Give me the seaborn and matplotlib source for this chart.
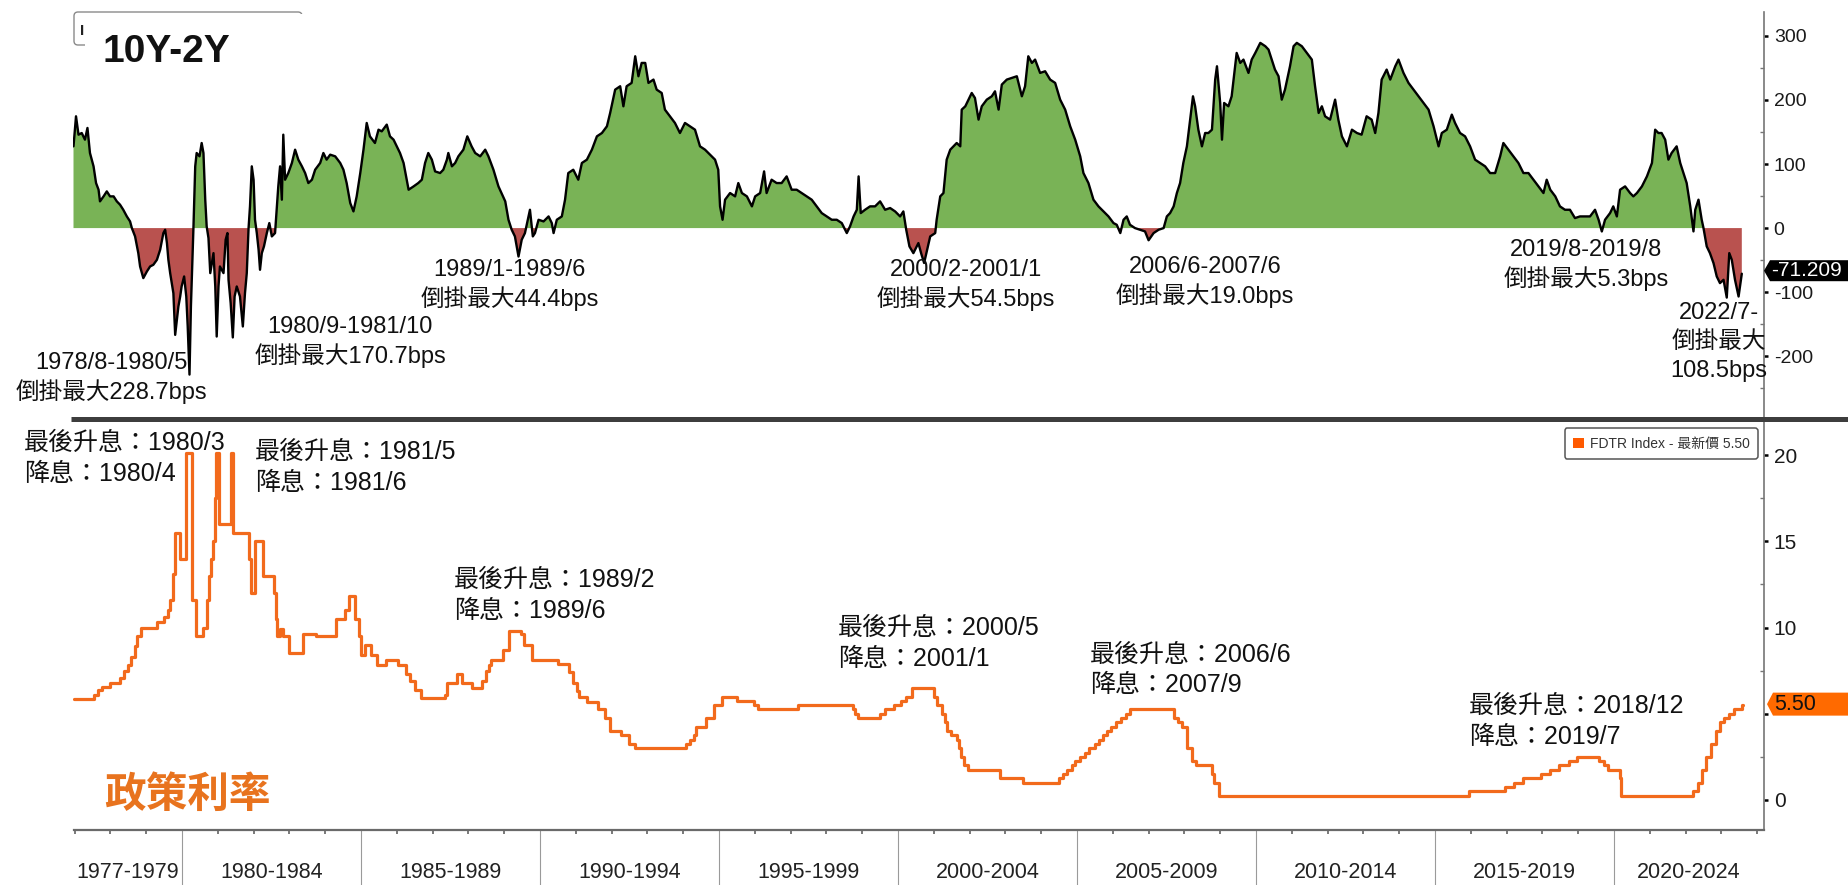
import matplotlib
matplotlib.use("Agg")
import numpy as np
import pandas as pd
import matplotlib.pyplot as plt
from matplotlib.path import Path
from matplotlib.patches import FancyBboxPatch, Patch, Rectangle
from matplotlib.lines import Line2D
from matplotlib.transforms import IdentityTransform
from matplotlib.font_manager import FontProperties, fontManager
import seaborn as sns

# ---------------- 10Y-2Y Treasury spread (bps) ----------------
spread_dates = [
    1976.97, 1977.04, 1977.11, 1977.20, 1977.29, 1977.36, 1977.43, 1977.53, 1977.60, 1977.67,
    1977.71, 1977.81, 1977.90, 1977.99, 1978.09, 1978.18, 1978.27, 1978.36, 1978.46, 1978.55,
    1978.60, 1978.69, 1978.78, 1978.83, 1978.92, 1979.02, 1979.11, 1979.20, 1979.30, 1979.39,
    1979.48, 1979.53, 1979.58, 1979.62, 1979.67, 1979.76, 1979.81, 1979.90, 1979.95, 1979.99,
    1980.06, 1980.12, 1980.16, 1980.21, 1980.25, 1980.32, 1980.37, 1980.41, 1980.49, 1980.55,
    1980.60, 1980.65, 1980.69, 1980.74, 1980.79, 1980.88, 1980.93, 1980.97, 1981.02, 1981.06,
    1981.16, 1981.22, 1981.27, 1981.30, 1981.36, 1981.42, 1981.47, 1981.53, 1981.62, 1981.70,
    1981.76, 1981.81, 1981.86, 1981.90, 1981.95, 1982.00, 1982.04, 1982.09, 1982.14, 1982.18,
    1982.23, 1982.29, 1982.37, 1982.44, 1982.51, 1982.60, 1982.65, 1982.69, 1982.74, 1982.79,
    1982.83, 1982.88, 1982.97, 1983.07, 1983.16, 1983.25, 1983.35, 1983.44, 1983.53, 1983.63,
    1983.72, 1983.86, 1983.95, 1984.04, 1984.14, 1984.28, 1984.42, 1984.51, 1984.60, 1984.70,
    1984.79, 1984.88, 1984.98, 1985.07, 1985.16, 1985.25, 1985.39, 1985.49, 1985.58, 1985.72,
    1985.81, 1985.91, 1986.00, 1986.09, 1986.19, 1986.33, 1986.47, 1986.60, 1986.70, 1986.79,
    1986.88, 1986.98, 1987.07, 1987.21, 1987.30, 1987.40, 1987.44, 1987.54, 1987.63, 1987.72,
    1987.86, 1987.97, 1988.09, 1988.19, 1988.33, 1988.47, 1988.56, 1988.70, 1988.84, 1989.03,
    1989.12, 1989.21, 1989.30, 1989.40, 1989.49, 1989.58, 1989.72, 1989.80, 1989.86, 1989.96,
    1990.10, 1990.24, 1990.33, 1990.38, 1990.47, 1990.61, 1990.70, 1990.79, 1990.93, 1991.07,
    1991.17, 1991.31, 1991.45, 1991.59, 1991.73, 1991.87, 1991.96, 1992.10, 1992.24, 1992.33,
    1992.42, 1992.56, 1992.66, 1992.75, 1992.84, 1992.94, 1993.03, 1993.17, 1993.26, 1993.40,
    1993.49, 1993.63, 1993.77, 1993.91, 1994.05, 1994.19, 1994.33, 1994.47, 1994.61, 1994.75,
    1994.89, 1994.98, 1995.03, 1995.10, 1995.17, 1995.31, 1995.45, 1995.54, 1995.64, 1995.78,
    1995.92, 1996.01, 1996.15, 1996.26, 1996.33, 1996.47, 1996.61, 1996.75, 1996.89, 1997.03,
    1997.17, 1997.31, 1997.45, 1997.59, 1997.73, 1997.87, 1998.01, 1998.15, 1998.29, 1998.43,
    1998.57, 1998.66, 1998.76, 1998.85, 1998.90, 1998.96, 1999.08, 1999.22, 1999.36, 1999.50,
    1999.64, 1999.78, 1999.92, 2000.06, 2000.15, 2000.23, 2000.32, 2000.43, 2000.57, 2000.65,
    2000.73, 2000.90, 2001.04, 2001.08, 2001.18, 2001.27, 2001.36, 2001.46, 2001.55, 2001.64,
    2001.74, 2001.78, 2001.88, 2001.97, 2002.06, 2002.15, 2002.25, 2002.34, 2002.48, 2002.62,
    2002.71, 2002.81, 2002.90, 2003.04, 2003.18, 2003.32, 2003.46, 2003.55, 2003.64, 2003.74,
    2003.83, 2003.97, 2004.11, 2004.25, 2004.39, 2004.53, 2004.67, 2004.81, 2004.95, 2005.09,
    2005.18, 2005.32, 2005.46, 2005.60, 2005.74, 2005.88, 2006.02, 2006.11, 2006.21, 2006.30,
    2006.39, 2006.48, 2006.62, 2006.76, 2006.90, 2007.00, 2007.14, 2007.28, 2007.42, 2007.51,
    2007.60, 2007.70, 2007.79, 2007.88, 2007.97, 2008.07, 2008.16, 2008.24, 2008.30, 2008.39,
    2008.49, 2008.58, 2008.67, 2008.77, 2008.86, 2008.91, 2009.00, 2009.05, 2009.11, 2009.23,
    2009.32, 2009.46, 2009.56, 2009.65, 2009.79, 2009.88, 2009.98, 2010.12, 2010.26, 2010.35,
    2010.44, 2010.53, 2010.63, 2010.72, 2010.81, 2010.95, 2011.05, 2011.14, 2011.28, 2011.42,
    2011.56, 2011.65, 2011.75, 2011.84, 2011.93, 2012.07, 2012.21, 2012.30, 2012.40, 2012.54,
    2012.68, 2012.82, 2012.95, 2013.09, 2013.23, 2013.33, 2013.42, 2013.51, 2013.65, 2013.75,
    2013.89, 2013.98, 2014.12, 2014.26, 2014.40, 2014.54, 2014.68, 2014.82, 2014.96, 2015.10,
    2015.19, 2015.33, 2015.47, 2015.56, 2015.70, 2015.84, 2015.98, 2016.12, 2016.26, 2016.40,
    2016.54, 2016.68, 2016.82, 2016.91, 2017.05, 2017.19, 2017.33, 2017.47, 2017.61, 2017.75,
    2017.89, 2018.03, 2018.12, 2018.22, 2018.36, 2018.49, 2018.63, 2018.77, 2018.91, 2019.05,
    2019.19, 2019.33, 2019.47, 2019.57, 2019.66, 2019.75, 2019.89, 2019.98, 2020.08, 2020.17,
    2020.31, 2020.45, 2020.54, 2020.64, 2020.78, 2020.92, 2021.06, 2021.15, 2021.24, 2021.33,
    2021.43, 2021.52, 2021.61, 2021.75, 2021.85, 2021.94, 2022.03, 2022.13, 2022.22, 2022.27,
    2022.36, 2022.45, 2022.50, 2022.59, 2022.68, 2022.78, 2022.87, 2022.96, 2023.06, 2023.15,
    2023.22, 2023.29, 2023.38, 2023.48, 2023.57,
]
spread_bps = [
    127.6, 174.5, 145.8, 148.4, 138.0, 156.3, 117.2, 96.4, 70.3, 59.9,
    41.7, 49.5, 57.3, 49.5, 49.5, 41.7, 36.5, 28.6, 18.2, 10.4,
    0.0, -13.0, -39.1, -59.9, -78.1, -67.7, -59.9, -57.3, -49.5, -33.9,
    -7.8, -2.6, -23.4, -49.5, -70.3, -101.6, -166.7, -122.4, -106.8, -91.1,
    -75.5, -106.8, -153.6, -228.7, -122.4, 0.0, 96.4, 117.2, 112.0, 132.8,
    117.2, 44.3, 2.6, -15.6, -70.3, -39.1, -91.1, -169.3, -91.1, -59.9,
    -70.3, -18.2, -7.8, -80.7, -117.2, -170.7, -106.8, -91.1, -106.8, -153.6,
    -101.6, -70.3, 0.0, 33.9, 96.4, 75.5, 13.0, -7.8, -33.9, -65.1,
    -39.1, -28.6, -7.8, 7.8, -13.0, -7.8, 33.9, 65.1, 96.4, 44.3,
    145.8, 75.5, 85.9, 101.6, 122.4, 106.8, 96.4, 85.9, 70.3, 75.5,
    91.1, 101.6, 117.2, 106.8, 114.6, 112.0, 101.6, 91.1, 70.3, 39.1,
    26.0, 49.5, 85.9, 122.4, 164.1, 143.2, 132.8, 153.6, 151.0, 161.5,
    143.2, 138.0, 127.6, 117.2, 101.6, 59.9, 65.1, 70.3, 75.5, 101.6,
    117.2, 106.8, 88.5, 85.9, 91.1, 106.8, 117.2, 96.4, 101.6, 112.0,
    122.4, 143.2, 127.6, 117.2, 112.0, 122.4, 112.0, 91.1, 65.1, 41.7,
    13.0, -2.6, -13.0, -44.4, -18.2, -7.8, 28.6, -13.0, -7.8, 13.0,
    10.4, 18.2, 7.8, -7.8, 13.0, 18.2, 44.3, 85.9, 91.1, 75.5,
    101.6, 106.8, 122.4, 143.2, 148.4, 158.9, 179.7, 216.1, 221.4, 190.1,
    221.4, 226.6, 268.2, 237.0, 257.8, 257.8, 226.6, 231.8, 216.1, 210.9,
    184.9, 174.5, 164.1, 148.4, 164.1, 158.9, 153.6, 127.6, 122.4, 114.6,
    106.8, 91.1, 33.9, 13.0, 44.3, 54.7, 49.5, 70.3, 54.7, 49.5,
    33.9, 49.5, 54.7, 88.5, 54.7, 75.5, 70.3, 70.3, 80.7, 59.9,
    59.9, 54.7, 49.5, 44.3, 33.9, 23.4, 18.2, 13.0, 13.0, 7.8,
    -7.8, 2.6, 18.2, 28.6, 80.7, 23.4, 28.6, 33.9, 33.9, 41.7,
    28.6, 31.3, 26.0, 18.2, 26.0, -2.6, -28.6, -39.1, -23.4, -40.0,
    -54.5, -13.0, -7.8, 13.0, 49.5, 54.7, 106.8, 122.4, 127.6, 132.8,
    127.6, 184.9, 190.1, 200.5, 210.9, 203.1, 169.3, 190.1, 200.5, 205.7,
    213.5, 184.9, 224.0, 231.8, 234.4, 237.0, 205.7, 221.4, 268.2, 257.8,
    263.0, 242.2, 244.8, 231.8, 226.6, 200.5, 184.9, 158.9, 138.0, 112.0,
    85.9, 70.3, 44.3, 33.9, 26.0, 18.2, 7.8, 5.2, -7.8, 13.0,
    18.2, 5.2, 0.0, -2.6, -5.2, -19.0, -7.8, -2.6, 0.0, 18.2,
    23.4, 33.9, 54.7, 70.3, 101.6, 127.6, 169.3, 205.7, 190.1, 153.6,
    127.6, 148.4, 148.4, 153.6, 231.8, 252.6, 195.3, 138.0, 195.3, 190.1,
    205.7, 273.4, 257.8, 263.0, 242.2, 263.0, 273.4, 289.1, 283.9, 278.6,
    263.0, 247.4, 237.0, 200.5, 216.1, 252.6, 283.9, 289.1, 283.9, 273.4,
    263.0, 221.4, 179.7, 190.1, 174.5, 169.3, 200.5, 169.3, 143.2, 127.6,
    153.6, 148.4, 145.8, 174.5, 169.3, 148.4, 179.7, 231.8, 247.4, 231.8,
    252.6, 263.0, 242.2, 226.6, 216.1, 205.7, 195.3, 184.9, 158.9, 127.6,
    148.4, 153.6, 177.1, 164.1, 148.4, 143.2, 127.6, 106.8, 101.6, 96.4,
    85.9, 85.9, 112.0, 132.8, 122.4, 112.0, 101.6, 85.9, 85.9, 75.5,
    65.1, 54.7, 75.5, 59.9, 49.5, 33.9, 28.6, 28.6, 15.6, 18.2,
    18.2, 18.2, 28.6, 13.0, -5.3, 13.0, 23.4, 33.9, 18.2, 59.9,
    65.1, 54.7, 49.5, 54.7, 65.1, 80.7, 101.6, 153.6, 148.4, 148.4,
    138.0, 106.8, 117.2, 127.6, 101.6, 85.9, 70.3, 33.9, -5.2, 28.6,
    44.3, 13.0, 0.0, -28.6, -39.1, -54.7, -75.5, -85.9, -80.7, -108.5,
    -39.1, -49.5, -80.7, -106.8, -71.209,
]

# ---------------- Fed funds target rate (FDTR, %), value from each date on ----------------
fdtr_dates = [
    1976.97, 1977.55, 1977.66, 1977.77, 1977.99, 1978.26, 1978.37, 1978.48, 1978.59, 1978.70,
    1978.75, 1978.86, 1979.29, 1979.51, 1979.62, 1979.67, 1979.75, 1979.815, 1979.946, 1980.109,
    1980.272, 1980.402, 1980.598, 1980.707, 1980.761, 1980.815, 1980.870, 1980.924, 1980.95, 1981.033,
    1981.359, 1981.435, 1981.870, 1981.924, 1982.044, 1982.261, 1982.576, 1982.62, 1982.663, 1982.739,
    1982.826, 1982.989, 1983.370, 1983.750, 1984.294, 1984.566, 1984.674, 1984.837, 1984.946, 1985.000,
    1985.109, 1985.272, 1985.435, 1985.707, 1986.033, 1986.250, 1986.359, 1986.522, 1986.685, 1987.337,
    1987.392, 1987.696, 1987.827, 1988.098, 1988.370, 1988.479, 1988.566, 1988.642, 1988.968, 1989.131,
    1989.457, 1989.566, 1989.783, 1990.490, 1990.816, 1990.925, 1991.033, 1991.088, 1991.305, 1991.63,
    1991.82, 1991.96, 1992.25, 1992.50, 1992.66, 1994.08, 1994.19, 1994.30, 1994.37, 1994.63,
    1994.87, 1995.09, 1995.50, 1995.97, 1996.08, 1997.21, 1998.75, 1998.80, 1998.87, 1999.49,
    1999.64, 1999.88, 2000.09, 2000.22, 2000.38, 2001.01, 2001.08, 2001.22, 2001.30, 2001.38,
    2001.49, 2001.64, 2001.71, 2001.76, 2001.85, 2001.95, 2002.85, 2003.49, 2004.49, 2004.61,
    2004.72, 2004.86, 2004.95, 2005.09, 2005.22, 2005.34, 2005.49, 2005.61, 2005.72, 2005.83,
    2005.95, 2006.08, 2006.24, 2006.36, 2006.49, 2007.71, 2007.83, 2007.94, 2008.06, 2008.08,
    2008.21, 2008.33, 2008.77, 2008.83, 2008.96, 2015.96, 2016.95, 2017.20, 2017.45, 2017.95,
    2018.22, 2018.45, 2018.74, 2018.97, 2019.58, 2019.71, 2019.83, 2020.17, 2020.20, 2022.21,
    2022.34, 2022.46, 2022.57, 2022.72, 2022.84, 2022.95, 2023.08, 2023.22, 2023.34, 2023.57,
    2023.60,
]
fdtr_rates = [
    5.85, 6.08, 6.37, 6.53, 6.76, 7.05, 7.50, 7.85, 8.30, 8.90,
    9.50, 10.00, 10.30, 10.60, 11.00, 11.60, 13.10, 15.50, 14.00, 20.10,
    11.60, 9.50, 10.00, 11.60, 13.00, 14.00, 15.00, 17.50, 20.10, 16.00,
    20.10, 15.50, 14.00, 12.00, 15.00, 13.00, 12.00, 10.50, 9.50, 9.90,
    9.50, 8.50, 9.60, 9.50, 10.50, 11.00, 11.80, 10.50, 9.50, 8.40,
    9.00, 8.40, 7.80, 8.10, 7.80, 7.30, 6.90, 6.40, 5.90, 6.10,
    6.80, 7.30, 6.80, 6.50, 6.90, 7.50, 7.80, 8.10, 8.70, 9.80,
    9.60, 9.00, 8.10, 7.90, 7.40, 6.80, 6.30, 6.00, 5.70, 5.25,
    4.75, 4.00, 3.75, 3.25, 3.00, 3.25, 3.50, 3.75, 4.25, 4.75,
    5.50, 6.00, 5.75, 5.50, 5.25, 5.50, 5.25, 5.00, 4.75, 5.00,
    5.25, 5.50, 5.75, 6.00, 6.50, 6.00, 5.50, 5.00, 4.50, 4.00,
    3.75, 3.50, 3.00, 2.50, 2.00, 1.75, 1.25, 1.00, 1.25, 1.50,
    1.75, 2.00, 2.25, 2.50, 2.75, 3.00, 3.25, 3.50, 3.75, 4.00,
    4.25, 4.50, 4.75, 5.00, 5.25, 4.75, 4.50, 4.25, 3.50, 3.00,
    2.25, 2.00, 1.50, 1.00, 0.25, 0.50, 0.75, 1.00, 1.25, 1.50,
    1.75, 2.00, 2.25, 2.50, 2.25, 2.00, 1.75, 1.25, 0.25, 0.50,
    1.00, 1.75, 2.50, 3.25, 4.00, 4.50, 4.75, 5.00, 5.25, 5.50,
    5.50,
]

# ---------------- Axis labels and annotations ----------------
period_labels = ["1977-1979", "1980-1984", "1985-1989", "1990-1994", "1995-1999",
                 "2000-2004", "2005-2009", "2010-2014", "2015-2019", "2020-2024"]
period_edges = [1980, 1985, 1990, 1995, 2000, 2005, 2010, 2015, 2020]
spread_ticks = [-200, -100, 0, 100, 200, 300]
rate_ticks = [0, 5, 10, 15, 20]

inversion_notes = [
    (1978.03, -210.6, ["1978/8-1980/5", "倒掛最大228.7bps"]),
    (1984.70, -153.7, ["1980/9-1981/10", "倒掛最大170.7bps"]),
    (1989.16, -65.4, ["1989/1-1989/6", "倒掛最大44.4bps"]),
    (2001.90, -65.4, ["2000/2-2001/1", "倒掛最大54.5bps"]),
    (2008.57, -60.3, ["2006/6-2007/6", "倒掛最大19.0bps"]),
    (2019.22, -34.2, ["2019/8-2019/8", "倒掛最大5.3bps"]),
    (2022.93, -132.2, ["2022/7-", "倒掛最大", "108.5bps"]),
]
policy_notes = [
    (1975.59, 20.70, ["最後升息：1980/3", "降息：1980/4"]),
    (1982.04, 20.17, ["最後升息：1981/5", "降息：1981/6"]),
    (1987.60, 12.75, ["最後升息：1989/2", "降息：1989/6"]),
    (1998.33, 9.97, ["最後升息：2000/5", "降息：2001/1"]),
    (2005.37, 8.41, ["最後升息：2006/6", "降息：2007/9"]),
    (2015.95, 5.45, ["最後升息：2018/12", "降息：2019/7"]),
]

GREEN = "#79B356"
RED = "#B9524F"
ORANGE_LINE = "#F26A1C"
ORANGE_TAG = "#FF6A00"
TITLE_ORANGE = "#E8731E"
AXIS_GREY = "#767676"

sns.set_theme(style="white")
plt.rcParams["font.family"] = ["Liberation Sans", "Noto Sans CJK TC"]
plt.rcParams["axes.unicode_minus"] = False

installed = {f.name for f in fontManager.ttflist}
NARROW = next((n for n in ("Liberation Sans Narrow", "DejaVu Sans Condensed") if n in installed), None)
PERIOD_FONT = NARROW or "Liberation Sans"
PERIOD_SIZE = 18 if NARROW else 15.5

W, H = 1849, 885
fig = plt.figure(figsize=(W / 100, H / 100), dpi=100)
fig.patch.set_facecolor("white")


def fx(px):
    return px / W


def fy(py):
    return 1 - py / H


LEFT, RIGHT = 73.5, 1764.0
top_ax = fig.add_axes([fx(LEFT), fy(417), fx(RIGHT) - fx(LEFT), fy(12) - fy(417)])
bot_ax = fig.add_axes([fx(LEFT), fy(830), fx(RIGHT) - fx(LEFT), fy(419) - fy(830)], sharex=top_ax)
for a in (top_ax, bot_ax):
    a.set_facecolor("white")

X_START, X_END = 1976.97, 2024.19

# ---------------- top panel: spread ----------------
spread = pd.DataFrame({"date": spread_dates, "bps": spread_bps})
xs = spread["date"].to_numpy()
ys = spread["bps"].to_numpy()
top_ax.fill_between(xs, ys, 0, where=ys >= 0, interpolate=True, color=GREEN, linewidth=0, zorder=1)
top_ax.fill_between(xs, ys, 0, where=ys <= 0, interpolate=True, color=RED, linewidth=0, zorder=1)
sns.lineplot(data=spread, x="date", y="bps", ax=top_ax, color="black", linewidth=1.7,
             legend=False, zorder=2)

top_ax.set_xlim(X_START, X_END)
top_ax.set_ylim(-294.9, 337.3)
top_ax.set_xlabel("")
top_ax.set_ylabel("")
top_ax.yaxis.tick_right()
top_ax.set_yticks(spread_ticks)
top_ax.set_yticklabels([str(t) for t in spread_ticks])
top_ax.set_yticks([-250, -150, -50, 50, 150, 250], minor=True)
top_ax.tick_params(axis="y", which="major", right=True, direction="out", length=3, width=1.8,
                   color="black", pad=4, labelsize=14, labelcolor="#1a1a1a")
top_ax.tick_params(axis="y", which="minor", right=True, direction="in", length=3, width=1,
                   color=AXIS_GREY)
top_ax.tick_params(axis="x", which="both", bottom=False, top=False, labelbottom=False)
for side, sp in top_ax.spines.items():
    sp.set_visible(side == "right")
top_ax.spines["right"].set_color(AXIS_GREY)
top_ax.spines["right"].set_linewidth(1.2)

for x0, y0, lines in inversion_notes:
    for i, line in enumerate(lines):
        top_ax.annotate(line, xy=(x0, y0), xytext=(0, -i * 20.9), textcoords="offset points",
                        ha="center", va="center", fontsize=17, color="#111111",
                        annotation_clip=False, zorder=4)


def tag_box(tip=7, pad_l=2, pad_r=8, pad_v=1):
    def _box(x0, y0, width, height, mutation_size):
        xl, xr = x0 - pad_l, x0 + width + pad_r
        yb, yt = y0 - pad_v, y0 + height + pad_v
        ym = (yb + yt) / 2
        verts = [(xl - tip, ym), (xl, yt), (xr, yt), (xr, yb), (xl, yb), (xl - tip, ym)]
        codes = [Path.MOVETO] + [Path.LINETO] * 4 + [Path.CLOSEPOLY]
        return Path(verts, codes)
    return _box


top_ax.annotate(f"{spread_bps[-1]:.3f}", xy=(1, spread_bps[-1]), xycoords=("axes fraction", "data"),
                xytext=(7, 3), textcoords="offset pixels", ha="left", va="center",
                fontsize=15, color="white", annotation_clip=False, zorder=10,
                bbox=dict(boxstyle=tag_box(tip=6, pad_l=1, pad_r=10, pad_v=1), fc="black", ec="none"))

# ---------------- bottom panel: policy rate ----------------
fdtr = pd.DataFrame({"date": fdtr_dates, "rate": fdtr_rates})
sns.lineplot(data=fdtr, x="date", y="rate", ax=bot_ax, color=ORANGE_LINE, linewidth=2.3,
             drawstyle="steps-post", legend=False, zorder=2)
bot_ax.set_ylim(-1.74, 22.09)
bot_ax.set_xlim(X_START, X_END)
bot_ax.set_xlabel("")
bot_ax.set_ylabel("")
bot_ax.yaxis.tick_right()
bot_ax.set_yticks(rate_ticks)
# the latest-value tag sits over the "5" level, so that label is left blank
bot_ax.set_yticklabels(["" if t == 5 else str(t) for t in rate_ticks])
bot_ax.set_yticks([2.5, 7.5, 12.5, 17.5], minor=True)
bot_ax.tick_params(axis="y", which="major", right=True, direction="out", length=3, width=1.8,
                   color="black", pad=4, labelsize=15, labelcolor="#1a1a1a")
bot_ax.tick_params(axis="y", which="minor", right=True, direction="in", length=3, width=1,
                   color=AXIS_GREY)

bot_ax.set_xticks(period_edges)
bot_ax.set_xticks(list(range(1977, 2025)), minor=True)
bot_ax.tick_params(axis="x", which="major", bottom=True, direction="out", length=39.6, width=0.8,
                   color="#9a9a9a", labelbottom=False)
bot_ax.tick_params(axis="x", which="minor", bottom=True, direction="out", length=3, width=1.1,
                   color="#555555")
for side, sp in bot_ax.spines.items():
    sp.set_visible(side in ("right", "bottom"))
bot_ax.spines["right"].set_color(AXIS_GREY)
bot_ax.spines["right"].set_linewidth(1.2)
bot_ax.spines["bottom"].set_color("#6a6a6a")
bot_ax.spines["bottom"].set_linewidth(1.6)

edges = [X_START] + period_edges + [X_END]
for lab, a, b in zip(period_labels, edges[:-1], edges[1:]):
    bot_ax.annotate(lab, xy=((a + b) / 2, 0), xycoords=("data", "axes fraction"),
                    xytext=(0, -42), textcoords="offset pixels", ha="center", va="center",
                    fontsize=PERIOD_SIZE, family=PERIOD_FONT, color="#222222", annotation_clip=False)

for x0, y0, lines in policy_notes:
    for i, line in enumerate(lines):
        bot_ax.annotate(line, xy=(x0, y0), xytext=(0, -i * 22), textcoords="offset points",
                        ha="left", va="center", fontsize=18, color="#111111",
                        annotation_clip=False, zorder=4)

bot_ax.annotate(f"{fdtr_rates[-1]:.2f}", xy=(1, fdtr_rates[-1]), xycoords=("axes fraction", "data"),
                xytext=(10, 1), textcoords="offset pixels", ha="left", va="center",
                fontsize=15.5, color="#111111", annotation_clip=False, zorder=10,
                bbox=dict(boxstyle=tag_box(tip=6, pad_l=1, pad_r=60, pad_v=1), fc=ORANGE_TAG, ec="none"))

legend_handle = Patch(facecolor="#FF5A00", edgecolor="none",
                      label=f"FDTR Index - 最新價 {fdtr_rates[-1]:.2f}")
leg = bot_ax.legend(handles=[legend_handle], loc="upper right", bbox_to_anchor=(0.998, 0.984),
                    frameon=True, fancybox=True, framealpha=1, edgecolor="#555555",
                    prop=FontProperties(family=[PERIOD_FONT, "Noto Sans CJK TC"],
                                        size=11.5 if NARROW else 10),
                    handlelength=0.8, handleheight=0.8, handletextpad=0.4, borderpad=0.6,
                    borderaxespad=0.2, labelcolor="#333333")
leg.get_frame().set_linewidth(1.1)

# ---------------- panel divider, headings ----------------
fig.add_artist(Line2D([fx(71), 1.0], [fy(418.5), fy(418.5)], transform=fig.transFigure,
                      color="#3d3d3d", linewidth=3.6, solid_capstyle="butt", zorder=20))

fig.add_artist(FancyBboxPatch((74, H - 45), 228, 33, boxstyle="round,pad=0,rounding_size=4",
                              transform=IdentityTransform(), fc="white", ec="#8a8a8a", lw=1, zorder=21))
fig.add_artist(Rectangle((85, H - 75), 240, 61.5, transform=IdentityTransform(),
                         fc="white", ec="none", zorder=22))
fig.text(fx(80.5), fy(35), "I", fontsize=11, weight="bold", color="#222222", va="baseline", zorder=23)
fig.text(fx(103), fy(62), "10Y-2Y", fontsize=28, weight="bold", color="#111111", va="baseline", zorder=23)
fig.text(fx(104), fy(795), "政策利率", fontsize=30, weight="bold", color=TITLE_ORANGE, va="center",
         family=["Noto Sans CJK TC"], zorder=23)

fig.savefig("out.png", dpi=100, facecolor="white")
